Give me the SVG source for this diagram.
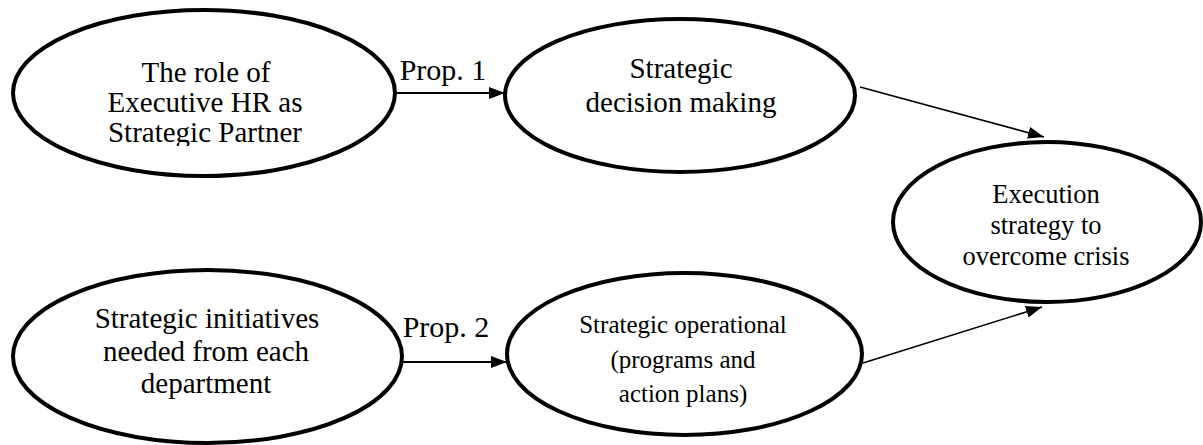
<svg xmlns="http://www.w3.org/2000/svg" width="1203" height="445" viewBox="0 0 1203 445">
  <style>
    .node ellipse { fill: #ffffff; stroke: #000000; stroke-width: 4; }
    .node text, .label { font-family: "Liberation Serif", "Times New Roman", serif; fill: #000000; text-anchor: middle; }
    .edge { stroke: #000000; fill: none; }
  </style>
  <defs>
    <marker id="arrow" markerUnits="userSpaceOnUse" markerWidth="18" markerHeight="14" refX="16" refY="6" orient="auto">
      <path d="M0,0 L16,6 L0,12 Z" fill="#000000"/>
    </marker>
    <clipPath id="clip1">
      <rect x="0" y="0" width="420" height="146"/>
    </clipPath>
  </defs>
  <rect width="1203" height="445" fill="#ffffff"/>

  <g id="connectors">
    <line class="edge" x1="396" y1="93" x2="505" y2="93" stroke-width="2" marker-end="url(#arrow)"/>
    <line class="edge" x1="403" y1="362" x2="507" y2="362" stroke-width="2" marker-end="url(#arrow)"/>
    <line class="edge" x1="860" y1="87" x2="1044" y2="137" stroke-width="1.6" marker-end="url(#arrow)"/>
    <line class="edge" x1="863" y1="363" x2="1042" y2="307" stroke-width="1.6" marker-end="url(#arrow)"/>
    <text class="label" x="443" y="80" font-size="30">Prop. 1</text>
    <text class="label" x="446" y="337" font-size="30">Prop. 2</text>
  </g>

  <g id="node-role" class="node">
    <ellipse cx="204" cy="93" rx="191" ry="83"/>
    <g clip-path="url(#clip1)">
      <text x="206" y="82" font-size="29">The role of</text>
      <text x="205" y="112" font-size="29">Executive HR as</text>
      <text x="205" y="142" font-size="29">Strategic Partner</text>
    </g>
  </g>

  <g id="node-decision" class="node">
    <ellipse cx="680" cy="95.5" rx="175" ry="76.5"/>
    <text x="681" y="78" font-size="29">Strategic</text>
    <text x="681" y="112" font-size="29">decision making</text>
  </g>

  <g id="node-execution" class="node">
    <ellipse cx="1047" cy="222" rx="154" ry="80"/>
    <text x="1046" y="203" font-size="26.5">Execution</text>
    <text x="1046" y="234" font-size="26.5">strategy to</text>
    <text x="1046" y="265" font-size="26.5">overcome crisis</text>
  </g>

  <g id="node-initiatives" class="node">
    <ellipse cx="207.5" cy="356.5" rx="194.5" ry="86.5"/>
    <text x="207" y="328" font-size="29">Strategic initiatives</text>
    <text x="206" y="361" font-size="29">needed from each</text>
    <text x="206" y="393" font-size="29">department</text>
  </g>

  <g id="node-operational" class="node">
    <ellipse cx="684.5" cy="354" rx="177.5" ry="81"/>
    <text x="683" y="333" font-size="25">Strategic operational</text>
    <text x="683" y="368" font-size="25">(programs and</text>
    <text x="683" y="402" font-size="25">action plans)</text>
  </g>
</svg>
